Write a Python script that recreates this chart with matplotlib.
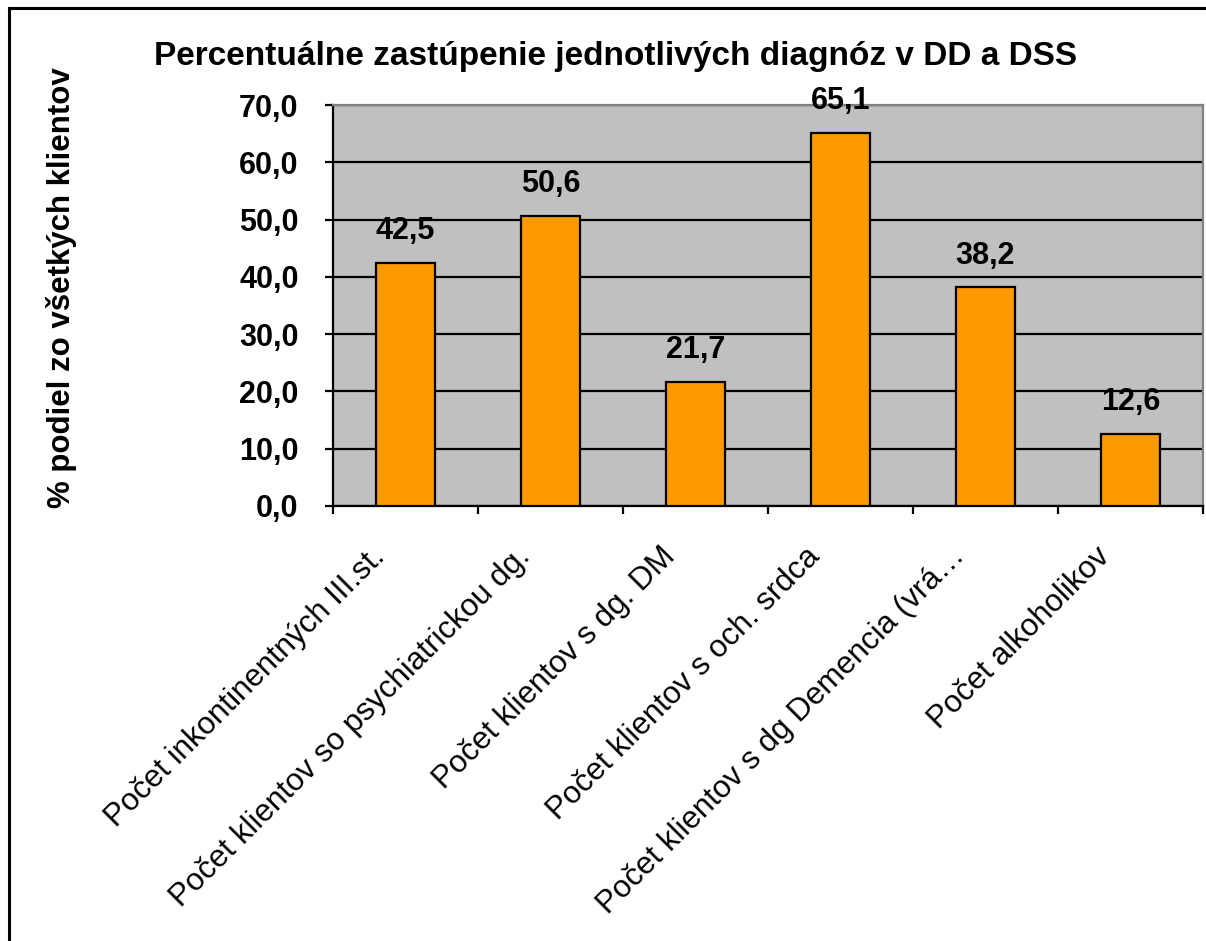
import matplotlib
matplotlib.use("Agg")
import matplotlib.pyplot as plt
from matplotlib.patches import Rectangle

categories = [
    "Počet inkontinentných III.st.",
    "Počet klientov so psychiatrickou dg.",
    "Počet klientov s dg. DM",
    "Počet klientov s och. srdca",
    "Počet klientov s dg Demencia (vrá…",
    "Počet alkoholikov",
]
values = [42.5, 50.6, 21.7, 65.1, 38.2, 12.6]
value_labels = ["42,5", "50,6", "21,7", "65,1", "38,2", "12,6"]
yticks = [0, 10, 20, 30, 40, 50, 60, 70]
ytick_labels = ["0,0", "10,0", "20,0", "30,0", "40,0", "50,0", "60,0", "70,0"]
title = "Percentuálne zastúpenie jednotlivých diagnóz v DD a DSS"
ylabel = "% podiel zo všetkých klientov"

plt.rcParams['font.family'] = ['Liberation Sans', 'DejaVu Sans']

W, H = 1206, 941
fig = plt.figure(figsize=(W / 100, H / 100), dpi=100)
fig.patch.set_facecolor("white")

# figure border
fig.add_artist(Rectangle((9 / W, -0.05), 1.2, 1 - 8 / H + 0.05, transform=fig.transFigure,
                         fill=False, edgecolor="black", linewidth=2.2, zorder=10))

left, right, top, bottom = 333, 1203, 105, 506
ax = fig.add_axes([left / W, 1 - bottom / H, (right - left) / W, (bottom - top) / H])
ax.set_facecolor("#C0C0C0")

x = list(range(len(categories)))
ax.bar(x, values, width=0.41, color="#FF9900", edgecolor="black", linewidth=1.6, zorder=3)
ax.set_xlim(-0.5, len(categories) - 0.5)
ax.set_ylim(0, 70)

ax.set_yticks(yticks)
ax.set_yticklabels(ytick_labels, fontsize=22, fontweight="bold")
ax.yaxis.grid(True, color="black", linewidth=1.6, zorder=1)
ax.set_axisbelow(True)

ax.set_xticks([i - 0.5 for i in range(len(categories) + 1)])
ax.set_xticklabels([])
ax.tick_params(axis="x", length=5.8, width=1.6, direction="out")
ax.tick_params(axis="y", length=5.8, width=1.6, direction="out", pad=19)

for s in ["top", "right"]:
    ax.spines[s].set_color("#808080")
    ax.spines[s].set_linewidth(1.6)
for s in ["left", "bottom"]:
    ax.spines[s].set_color("black")
    ax.spines[s].set_linewidth(1.6)

for i, (v, lab) in enumerate(zip(values, value_labels)):
    ax.annotate(lab, (i, v), xytext=(0, 12), textcoords="offset points",
                ha="center", va="bottom", fontsize=22, fontweight="bold")

for i, cat in enumerate(categories):
    ax.annotate(cat, (i, 0), xytext=(-18, -33), textcoords="offset points",
                rotation=45, rotation_mode="anchor", ha="right", va="center",
                fontsize=22.5)

fig.text(615 / W, 1 - 57 / H, title, ha="center", va="center",
         fontsize=24, fontweight="bold")
fig.text(62 / W, 1 - 288 / H, ylabel, ha="center", va="center", rotation=90,
         fontsize=22.5, fontweight="bold")

fig.savefig("out.png", dpi=100)
